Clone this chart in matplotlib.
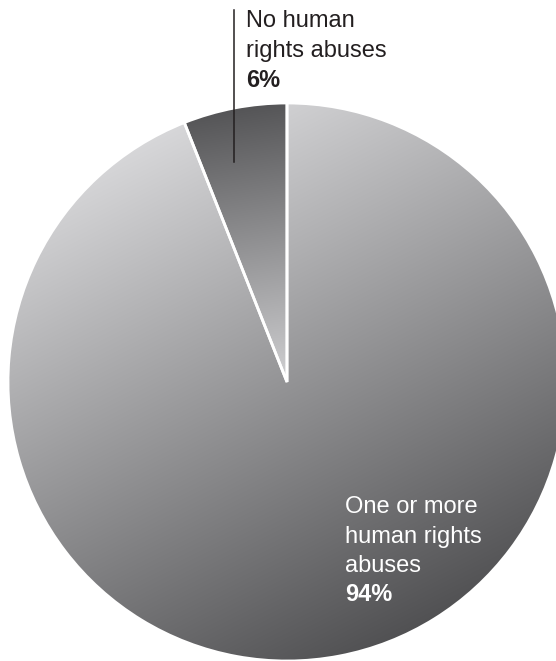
import matplotlib
matplotlib.use("Agg")
import matplotlib.pyplot as plt
import numpy as np
from matplotlib.lines import Line2D

# data
labels = ["No human\nrights abuses", "One or more\nhuman rights\nabuses"]
shares = [6, 94]

W, H = 556, 661
fig = plt.figure(figsize=(W / 100, H / 100), dpi=100)
# pie centre at (287, 382) px, radius 279 px
ax = fig.add_axes([8 / W, 0, 558 / W, 558 / H])

wedges, _ = ax.pie(shares, startangle=90, counterclock=True, radius=1,
                   wedgeprops=dict(facecolor='none', edgecolor='white', linewidth=2))

# gradient fills
n = 700
gx, gy = np.meshgrid(np.linspace(-1, 1, n), np.linspace(1, -1, n))

def to_rgb(v):
    v = np.clip(v, 0, 255) / 255.0
    return np.dstack([v, v, np.clip(v + 0.008, 0, 1)])

big = 148 - 30 * gx + 60 * gy
small = 208 - 122 * gy + 20 * gx
fills = [to_rgb(small), to_rgb(big)]

for wedge, img in zip(wedges, fills):
    im = ax.imshow(img, extent=(-1, 1, -1, 1), zorder=0, interpolation='bilinear')
    im.set_clip_path(wedge)

ax.set_xlim(-1, 1)
ax.set_ylim(-1, 1)
ax.axis('off')


def px(x, y):
    return x / W, 1 - y / H


font = 'Liberation Sans'
fs = 17

# label for small slice
for i, line in enumerate(labels[0].split("\n")):
    fig.text(*px(246, 27 + 30 * i), line, fontsize=fs, family=font,
             va='baseline', color='#231f20')
fig.text(*px(246, 87), "{}%".format(shares[0]), fontsize=fs, family=font,
         va='baseline', color='#231f20', fontweight='bold')
fig.add_artist(Line2D([234 / W, 234 / W], [1 - 10 / H, 1 - 162 / H],
                      transform=fig.transFigure, color='#231f20', lw=1.1))

# label for big slice
for i, line in enumerate(labels[1].split("\n")):
    fig.text(*px(345, 513 + 29.5 * i), line, fontsize=fs, family=font,
             va='baseline', color='white')
fig.text(*px(345, 601), "{}%".format(shares[1]), fontsize=fs, family=font,
         va='baseline', color='white', fontweight='bold')

fig.savefig("out.png", dpi=100)
